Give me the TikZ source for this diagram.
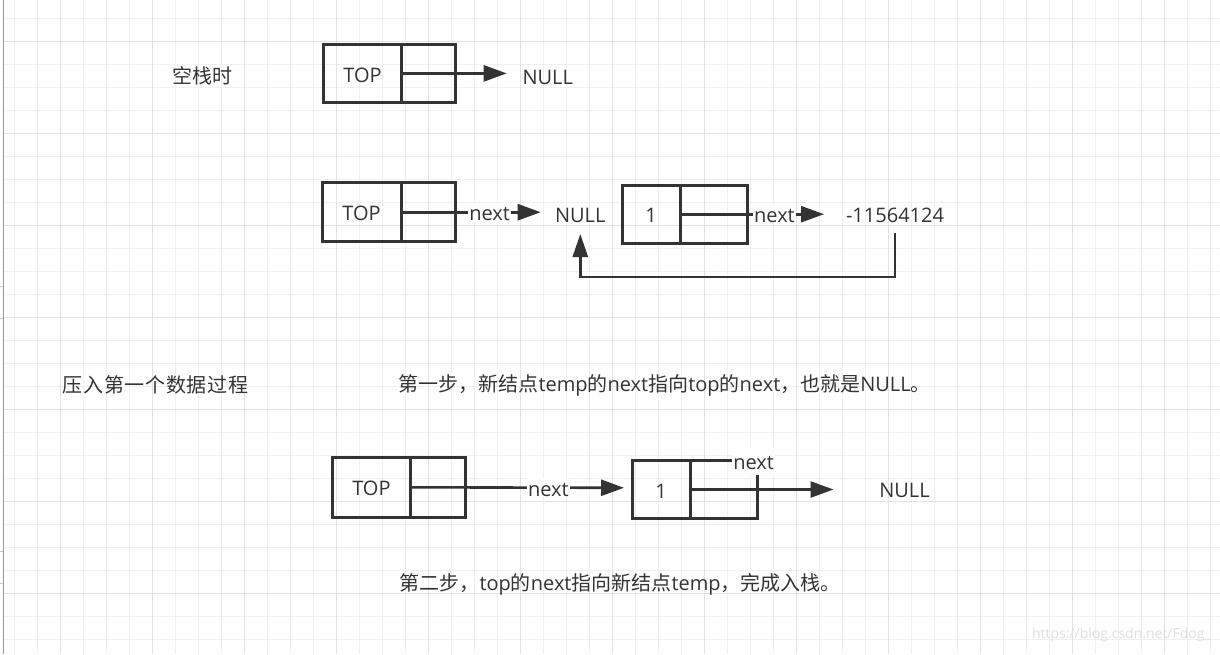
\documentclass[tikz,border=0pt]{standalone}
\usepackage{fontspec}
\setmainfont{Open Sans}
\newfontfamily\cjk{Noto Sans CJK SC}
\usetikzlibrary{arrows.meta}
\definecolor{ink}{HTML}{333333}
\definecolor{gminor}{HTML}{F0F0F0}
\definecolor{gmajor}{HTML}{E2E2E2}
\definecolor{wm}{HTML}{E0E0E0}
\begin{document}
\begin{tikzpicture}[x=1pt,y=-1pt,
  txt/.style={inner sep=0pt, outer sep=0pt, text height=17.3pt, text depth=0pt, text=ink, font=\fontsize{20}{24}\selectfont},
  cell/.style={draw=ink, line width=3pt, inner sep=0pt, outer sep=0pt, text height=17.3pt, text depth=0pt, text=ink, font=\fontsize{20}{24}\selectfont},
  conn/.style={draw=ink, line width=2.6pt},
  arr/.style={conn, -{Triangle[length=23pt,width=16pt]}},
  lbl/.style={txt, fill=white, inner xsep=1pt, inner ysep=1pt}
]
\useasboundingbox (0,0) rectangle (1220,654);
\fill[white] (0,0) rectangle (1220,654);
% grid
\foreach \i in {0,...,52} { \draw[gminor, line width=1pt] ({14.7+23*\i},0) -- ({14.7+23*\i},654); }
\foreach \i in {0,...,27} { \draw[gminor, line width=1pt] (4,{18.3+23*\i}) -- (1220,{18.3+23*\i}); }
\foreach \i in {0,...,12} { \draw[gmajor, line width=1pt] ({60.7+92*\i},0) -- ({60.7+92*\i},654); }
\foreach \i in {0,...,6} { \draw[gmajor, line width=1pt] (4,{41.3+92*\i}) -- (1220,{41.3+92*\i}); }
\draw[black!40, line width=1.3pt] (3.3,0) -- (3.3,654);
\foreach \yy in {286,318.3,551.7,583.3} { \draw[black!22, line width=1pt] (0,\yy) -- (3,\yy); }

% row 1: empty stack
\node[txt] (empty) at (202,75) {\cjk 空栈时};
\node[cell, minimum width=78.4pt, minimum height=58.7pt] (t1L) at (362.5,73.4) {TOP};
\node[cell, minimum width=53.3pt, minimum height=58.7pt, anchor=west] (t1R) at (t1L.east) {};
\node[txt] (null1) at (547.7,76.2) {NULL};
\coordinate (tip1) at (506.7,73.4);
\draw[arr] (t1R.west) -- (tip1);

% row 2
\node[cell, minimum width=79pt, minimum height=59pt] (t2L) at (361.5,212.2) {TOP};
\node[cell, minimum width=54.7pt, minimum height=59pt, anchor=west] (t2R) at (t2L.east) {};
\node[txt] (null2) at (580.3,214) {NULL};
\coordinate (tip2a) at (540.7,212.2);
\draw[arr] (t2R.west) -- node[lbl, pos=0.634] (nx2a) {next} (tip2a);
\node[cell, minimum width=58pt, minimum height=58.3pt] (o2L) at (651,214.2) {1};
\node[cell, minimum width=67pt, minimum height=58.3pt, anchor=west] (o2R) at (o2L.east) {};
\node[txt] (neg) at (895,214) {-11564124};
\coordinate (tip2b) at (824,214.2);
\draw[arr] (o2R.west) -- node[lbl, pos=0.656] (nx2b) {next} (tip2b);
\draw[arr, -{Triangle[length=23pt,width=15pt]}] ([yshift=-19pt]neg.center) -- ++(0,44) -| ([yshift=-20pt]null2.center);

% captions
\node[txt] (push) at (155.5,384) {\cjk\addfontfeature{LetterSpace=3.5}压入第一个数据过程};
\node[txt, anchor=west] (step1) at (398.5,383) {{\cjk 第一步，新结点}temp{\cjk 的}next{\cjk 指向}top{\cjk 的}next{\cjk ，也就是}NULL{\cjk 。}};

% row 3
\node[cell, minimum width=78.4pt, minimum height=60pt] (t3L) at (371.4,487.3) {TOP};
\node[cell, minimum width=54.4pt, minimum height=60pt, anchor=west] (t3R) at (t3L.east) {};
\node[cell, minimum width=58pt, minimum height=57.6pt] (o3L) at (661,489.5) {1};
\node[cell, minimum width=67.6pt, minimum height=57.6pt, anchor=west] (o3R) at (o3L.east) {};
\coordinate (tip3a) at (624,487.8);
\draw[arr] (t3R.west) -- node[lbl, pos=0.646] (nx3a) {next} (tip3a);
\node[txt] (null3) at (904.5,489) {NULL};
\coordinate (tip3b) at (833.5,489.5);
\draw[arr] (o3R.west) -- (tip3b);
\node[txt, fill=white, inner xsep=1pt, inner ysep=5.5pt] (nx3b) at (753.6,461) {next};

\node[txt, anchor=west] (step2) at (399.5,581.7) {{\cjk 第二步，}top{\cjk 的}next{\cjk 指向新结点}temp{\cjk ，完成入栈。}};

% watermark
\node[inner sep=0pt, text=wm, font=\fontsize{14}{16}\selectfont, anchor=east] (wmk) at (1211,635) {https://blog.csdn.net/Fdog\_};
\end{tikzpicture}
\end{document}
